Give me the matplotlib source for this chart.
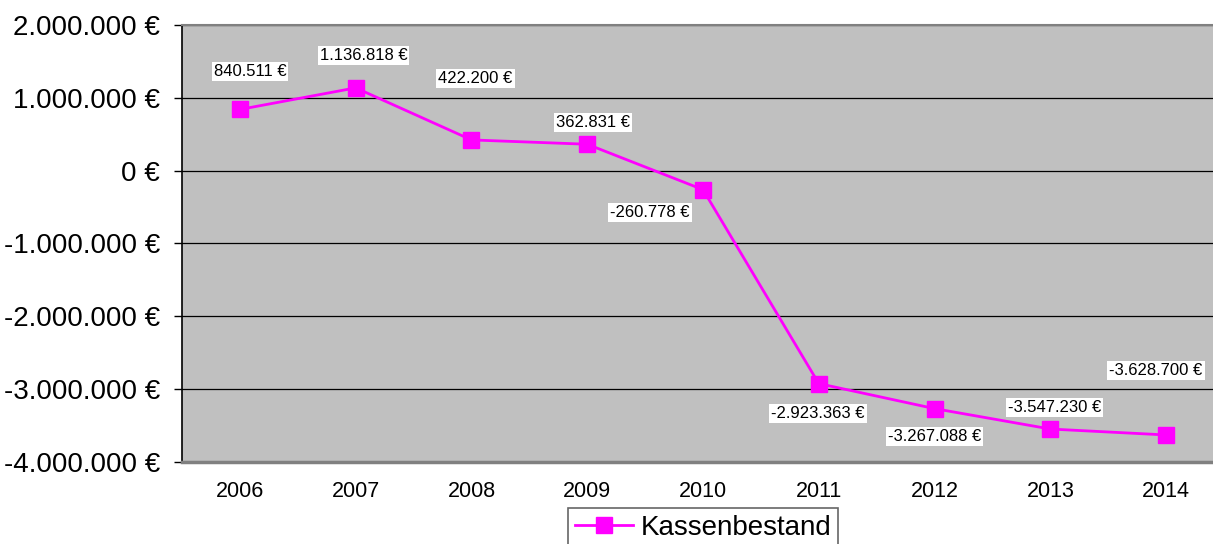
import matplotlib
matplotlib.use("Agg")
import matplotlib.pyplot as plt
from matplotlib.ticker import FuncFormatter, MultipleLocator

plt.rcParams['font.family'] = ['Liberation Sans', 'DejaVu Sans']

years = ['2006', '2007', '2008', '2009', '2010', '2011', '2012', '2013', '2014']
kassenbestand = [840511, 1136818, 422200, 362831, -260778,
                 -2923363, -3267088, -3547230, -3628700]
# label offsets in pixels (dx, dy), screen direction
label_offsets = [(10, 38), (8, 32), (4, 61), (6, 22), (-53, -23),
                 (-1, -30), (0, -28), (4, 22), (-10, 64)]


def euro(v, pos=None):
    s = f"{abs(int(round(v))):,}".replace(",", ".")
    return ("-" if v < 0 else "") + s + " €"


fig = plt.figure(figsize=(12.13, 5.44), dpi=100)
ax = fig.add_axes([182 / 1213, 1 - 462 / 544, 1042 / 1213, 437 / 544])
ax.set_facecolor('#C0C0C0')

x = list(range(len(years)))
line, = ax.plot(x, kassenbestand, color='#FF00FF', lw=2.0, marker='s',
                markersize=11.5, markeredgecolor='#FF00FF', zorder=3,
                label='Kassenbestand')

for xi, v, (dx, dy) in zip(x, kassenbestand, label_offsets):
    ax.annotate(euro(v), (xi, v), xytext=(dx * 0.72, dy * 0.72),
                textcoords='offset points', ha='center', va='center',
                fontsize=12,
                bbox=dict(boxstyle='square,pad=0.12', fc='white', ec='none'),
                zorder=4)

ax.set_xlim(-0.5, len(years) - 0.5)
ax.set_ylim(-4000000, 2000000)
ax.yaxis.set_major_locator(MultipleLocator(1000000))
ax.yaxis.set_major_formatter(FuncFormatter(euro))
ax.set_xticks(x)
ax.set_xticklabels(years)
ax.grid(axis='y', color='black', lw=0.9)
ax.set_axisbelow(True)

ax.tick_params(axis='y', labelsize=20, length=6, width=1, pad=10)
ax.tick_params(axis='x', labelsize=15.5, length=0, pad=14)

for s in ['top', 'right']:
    ax.spines[s].set_color('#808080')
    ax.spines[s].set_linewidth(1.5)
ax.spines['bottom'].set_color('#808080')
ax.spines['bottom'].set_linewidth(2.5)
ax.spines['left'].set_color('black')
ax.spines['left'].set_linewidth(1.2)

leg = fig.legend(handles=[line], loc='upper center',
                 bbox_to_anchor=(703 / 1213, 1 - 508 / 544), fontsize=20,
                 frameon=True, fancybox=False, edgecolor='#404040',
                 handlelength=2.1, handletextpad=0.25, borderpad=0.25,
                 borderaxespad=0)
leg.get_frame().set_linewidth(1.2)

fig.savefig('out.png', dpi=100)
